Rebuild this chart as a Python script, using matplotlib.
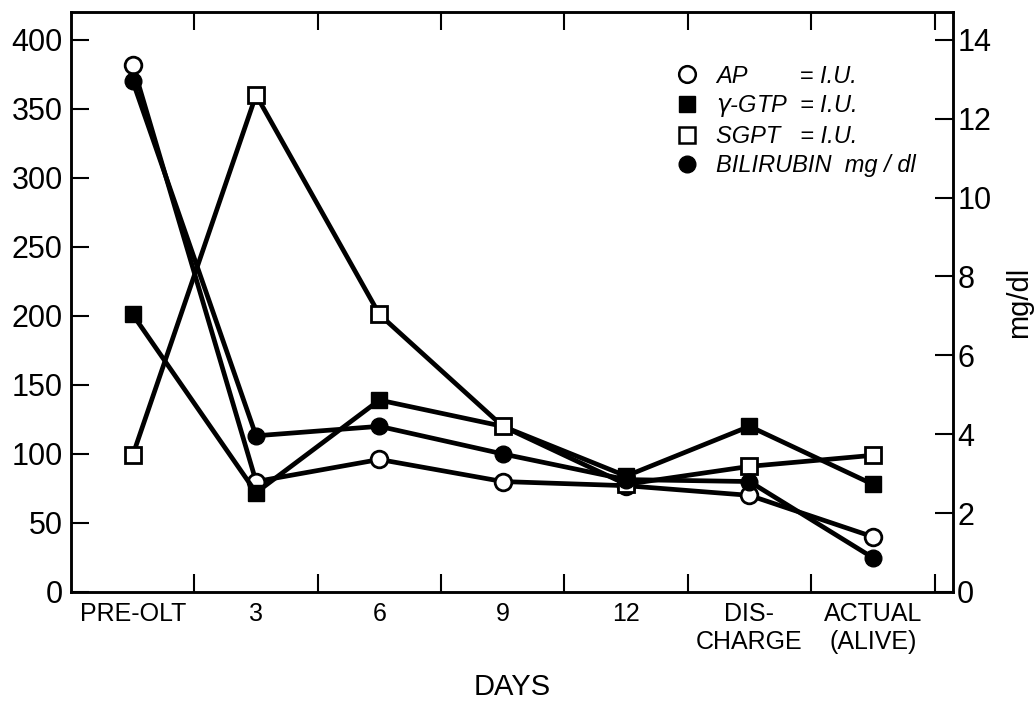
import matplotlib
matplotlib.use('Agg')
import matplotlib.pyplot as plt
from matplotlib.lines import Line2D

plt.rcParams['font.family'] = ['Liberation Sans', 'DejaVu Sans']

categories = ['PRE-OLT', '3', '6', '9', '12', 'DIS-\nCHARGE', 'ACTUAL\n(ALIVE)']
ap = [382, 80, 96, 80, 77, 70, 40]             # I.U.
ggtp = [201, 72, 139, 120, 84, 120, 78]       # I.U.
sgpt = [99, 360, 201, 120, 78, 91, 99]        # I.U.
bilirubin = [12.95, 3.96, 4.2, 3.5, 2.85, 2.8, 0.87]  # mg/dl

left_ticks = [0, 50, 100, 150, 200, 250, 300, 350, 400]
right_ticks = [0, 2, 4, 6, 8, 10, 12, 14]

x = list(range(len(categories)))

fig = plt.figure(figsize=(10.34, 7.02), dpi=100)
ax = fig.add_axes([0.0687, 0.1567, 0.853, 0.826])
ax2 = ax.twinx()

lw = 3.4
ms = 12
ax.plot(x, ap, color='black', lw=lw, marker='o', ms=ms, mfc='white', mec='black', mew=2, zorder=3)
ax.plot(x, ggtp, color='black', lw=lw, marker='s', ms=ms - 0.5, mfc='black', mec='black', zorder=3)
ax.plot(x, sgpt, color='black', lw=lw, marker='s', ms=ms - 0.5, mfc='white', mec='black', mew=2, zorder=3)
ax2.plot(x, bilirubin, color='black', lw=lw, marker='o', ms=ms, mfc='black', mec='black', zorder=3)

ax.set_xlim(-0.5, 6.65)
ax.set_ylim(0, 420)
ax2.set_ylim(0, 14.7)

# tick marks between categories, labels under categories
ax.set_xticks([i + 0.5 for i in x])
ax.set_xticklabels([])
ax.set_xticks(x, minor=True)
ax.set_xticklabels(categories, minor=True, fontsize=18)
ax.tick_params(axis='x', which='major', direction='in', length=13, width=1.5, top=True)
ax.tick_params(axis='x', which='minor', length=0, pad=7)

ax.set_yticks(left_ticks)
ax.tick_params(axis='y', direction='in', length=13, width=1.5, labelsize=22, pad=6)
ax2.set_yticks(right_ticks)
ax2.tick_params(axis='y', direction='in', length=13, width=1.5, labelsize=22, pad=3)

for a in (ax, ax2):
    for s in a.spines.values():
        s.set_linewidth(1.8)

ax.set_xlabel('DAYS', fontsize=21, labelpad=14)
ax2.set_ylabel('mg/dl', fontsize=21, labelpad=10)

handles = [
    Line2D([], [], ls='none', marker='o', ms=12, mfc='white', mec='black', mew=1.8),
    Line2D([], [], ls='none', marker='s', ms=11.5, mfc='black', mec='black'),
    Line2D([], [], ls='none', marker='s', ms=11.5, mfc='white', mec='black', mew=1.8),
    Line2D([], [], ls='none', marker='o', ms=12, mfc='black', mec='black'),
]
labels = ['AP        = I.U.', '$\\gamma$-GTP  = I.U.', 'SGPT   = I.U.', 'BILIRUBIN  mg / dl']
ax2.legend(handles, labels, loc='upper left', bbox_to_anchor=(0.672, 0.93),
           frameon=False, borderpad=0, handlelength=1, handletextpad=0.7,
           labelspacing=0.25, prop={'style': 'italic', 'size': 17})

plt.savefig('out.png', dpi=100)
plt.close()
